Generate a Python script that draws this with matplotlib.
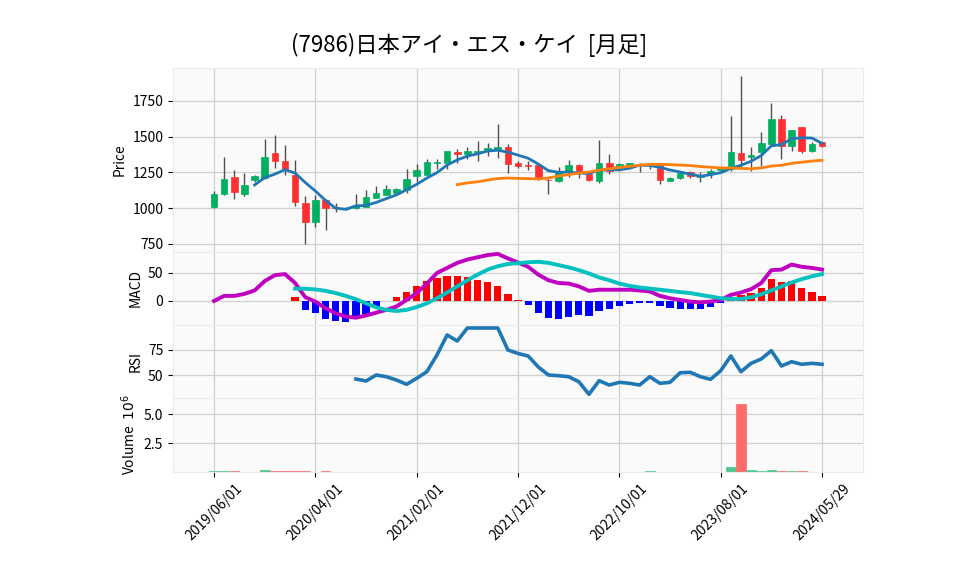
import numpy as np
import pandas as pd
import matplotlib
matplotlib.use('Agg')
from matplotlib import pyplot as plt

plt.rcParams['font.family'] = ['Noto Sans CJK JP', 'DejaVu Sans']

title = '(7986)日本アイ・エス・ケイ  [月足]'

# monthly candles, 2019/06 .. 2024/05 (+ last day 2024/05/29)
tick_pos = [0, 10, 20, 30, 40, 50, 60]
tick_labels = ['2019/06/01', '2020/04/01', '2021/02/01', '2021/12/01',
               '2022/10/01', '2023/08/01', '2024/05/29']

opens = [1005, 1096, 1214, 1096, 1195, 1209, 1383, 1331, 1228, 1035,
         899, 1059, 1007, 995, 998, 1010, 1070, 1094, 1108, 1126,
         1225, 1232, 1316, 1318, 1393, 1379, 1395, 1402, 1407, 1424,
         1313, 1298, 1301, 1197, 1192, 1250, 1301, 1238, 1192, 1315,
         1280, 1304, 1300, 1302, 1304, 1192, 1210, 1255, 1220, 1238,
         1266, 1273, 1385, 1360, 1390, 1448, 1623, 1436, 1565, 1401,
         1460]
highs = [1122, 1359, 1265, 1246, 1230, 1486, 1514, 1444, 1336, 1087,
         1092, 1065, 1035, 1008, 1098, 1128, 1151, 1159, 1142, 1271,
         1306, 1342, 1342, 1398, 1410, 1430, 1470, 1452, 1590, 1447,
         1330, 1330, 1301, 1205, 1285, 1334, 1308, 1245, 1478, 1378,
         1312, 1318, 1312, 1310, 1306, 1215, 1262, 1262, 1250, 1270,
         1290, 1646, 1921, 1425, 1534, 1735, 1651, 1546, 1565, 1464,
         1465]
lows = [1000, 1090, 1063, 1082, 1180, 1205, 1282, 1232, 1016, 749,
        866, 848, 970, 985, 995, 1005, 1068, 1090, 1100, 1103,
        1183, 1230, 1271, 1271, 1313, 1342, 1332, 1365, 1350, 1248,
        1283, 1267, 1194, 1099, 1180, 1215, 1208, 1190, 1175, 1238,
        1262, 1295, 1250, 1275, 1168, 1188, 1205, 1208, 1185, 1208,
        1262, 1262, 1273, 1262, 1292, 1445, 1343, 1401, 1385, 1390,
        1430]
closes = [1101, 1204, 1113, 1162, 1226, 1359, 1326, 1270, 1040, 899,
          1059, 998, 998, 1001, 1019, 1075, 1103, 1131, 1131, 1201,
          1264, 1321, 1321, 1398, 1379, 1398, 1402, 1419, 1424, 1311,
          1295, 1293, 1215, 1193, 1255, 1301, 1262, 1196, 1315, 1262,
          1305, 1313, 1304, 1305, 1199, 1210, 1243, 1227, 1231, 1257,
          1280, 1390, 1339, 1371, 1455, 1623, 1432, 1546, 1401, 1448,
          1436]
# volume in millions of shares
volumes = [0.05, 0.12, 0.05, 0.04, 0.04, 0.20, 0.12, 0.12, 0.06, 0.05,
           0.04, 0.12, 0.04, 0.03, 0.03, 0.03, 0.03, 0.03, 0.03, 0.03,
           0.03, 0.03, 0.03, 0.03, 0.03, 0.03, 0.03, 0.03, 0.03, 0.04,
           0.03, 0.03, 0.03, 0.03, 0.03, 0.03, 0.03, 0.03, 0.03, 0.03,
           0.03, 0.03, 0.03, 0.12, 0.04, 0.03, 0.03, 0.03, 0.03, 0.03,
           0.04, 0.40, 5.92, 0.20, 0.12, 0.20, 0.12, 0.05, 0.06, 0.04,
           0.03]

macd = [0, 9, 9, 12.6, 18.7, 35.5, 46, 48, 32, 6.6,
        -1.2, -13, -22, -28, -30, -26, -21, -16, -10, 1.8,
        14, 31, 50, 59, 68, 74, 78, 82, 84, 76,
        68.5, 61, 47, 37, 32, 31, 26, 18, 20, 20,
        20, 20, 18.7, 17, 9, 4.8, 1.8, -1.2, -2.4, -1.2,
        1.8, 10.8, 15, 21, 32, 55, 56, 65, 61, 59,
        56]
signal = [None] * 8 + [
    22, 21.7, 20.5, 18, 14, 9, 3, -4.2, -11.4, -16,
    -18, -16, -11, -4.2, 4.8, 15, 26, 37, 47, 56,
    62, 66, 67.5, 69, 70, 68, 64, 60, 55, 49,
    42, 37, 31, 27, 24, 22, 20, 18, 15.7, 14,
    10.8, 7.8, 4.8, 3.6, 3.6, 6.6, 12, 18.7, 26, 33,
    39, 44, 48]
hist = [None] * 8 + [
    6.6, -17, -22, -32, -35.5, -37, -33, -24, -12, 0.5,
    7.5, 16.5, 26, 36, 41, 45, 45, 43, 37, 34,
    27, 12.6, 1.8, -8, -21, -30, -32.5, -28, -25, -27,
    -17.5, -14, -9, -5.4, -4.2, -3, -8.4, -12, -14.5, -14.5,
    -14.5, -10, -3, 4.8, 10.8, 15, 23, 40, 34, 36,
    23, 15.7, 9]
rsi = [None] * 14 + [
    46, 44, 50, 48.3, 45, 40.7, 46.7, 53.3, 70, 90,
    84, 97, 97, 97, 97, 75, 71.5, 69, 58, 50,
    49.3, 48.3, 43.3, 30.7, 44.3, 40, 42.7, 41.7, 40, 48.3,
    41.7, 42.7, 52.3, 52.7, 48.3, 45.7, 54.3, 69, 53.3, 61.7,
    66, 74.3, 59, 63.3, 60.7, 61.7, 60.7]

x = np.arange(len(closes))
o = np.array(opens, float)
c = np.array(closes, float)
up = c >= o
ma5 = pd.Series(c).rolling(5).mean()
ma25 = pd.Series(c).rolling(25).mean()

UP, DOWN = '#00b060', '#fe3032'
VUP, VDOWN = '#4dc790', '#fd6b6c'
GRID = '#d0d0d0'

fig = plt.figure(figsize=(9.58, 5.75), dpi=100)
left, width = 0.1806, 0.7203
ax_p = fig.add_axes([left, 0.5617, width, 0.3200])
ax_m = fig.add_axes([left, 0.4348, width, 0.1270], sharex=ax_p)
ax_r = fig.add_axes([left, 0.3078, width, 0.1270], sharex=ax_p)
ax_v = fig.add_axes([left, 0.1791, width, 0.1287], sharex=ax_p)

for ax in (ax_p, ax_m, ax_r, ax_v):
    ax.set_facecolor('#fafafa')
    ax.grid(True, color=GRID, lw=0.9)
    ax.set_axisbelow(True)
    for s in ax.spines.values():
        s.set_color('#ececec')
    ax.tick_params(labelsize=10, length=3.5, width=0.8)
    if ax is not ax_v:
        ax.tick_params(labelbottom=False, bottom=False)

# candles
colors = [UP if u else DOWN for u in up]
ax_p.vlines(x, lows, highs, color='#505050', lw=1, zorder=2)
body = np.maximum(np.abs(c - o), 4)
ax_p.bar(x, body, bottom=np.minimum(o, c), width=0.65, color=colors,
         edgecolor=colors, lw=0.5, zorder=3)
ax_p.plot(x, ma5, color='#1f77b4', lw=2, zorder=4)
ax_p.plot(x, ma25, color='#ff7f0e', lw=2, zorder=4)
ax_p.set_ylim(692, 1980)
ax_p.set_yticks([750, 1000, 1250, 1500, 1750])
ax_p.set_ylabel('Price', fontsize=10)

# MACD
h = np.array([np.nan if v is None else v for v in hist])
ax_m.bar(x, h, width=0.72, color=['r' if v > 0 else 'b' for v in np.nan_to_num(h)],
         zorder=2)
ax_m.plot(x, macd, color='#c000c0', lw=2.8, zorder=3)
ax_m.plot(x, [np.nan if v is None else v for v in signal], color='#00c0c0', lw=2.8, zorder=3)
ax_m.set_ylim(-43, 87.5)
ax_m.set_yticks([0, 50])
ax_m.set_ylabel('MACD', fontsize=10)

# RSI
ax_r.plot(x, [np.nan if v is None else v for v in rsi], color='#1f77b4', lw=2.6)
ax_r.set_ylim(27, 100)
ax_r.set_yticks([50, 75])
ax_r.set_ylabel('RSI', fontsize=10)

# volume
vcol = [VUP if u else VDOWN for u in up]
ax_v.bar(x, np.array(volumes) * 1e6, width=0.95, color=vcol, edgecolor=vcol, lw=0.5)
ax_v.set_ylim(0, 6.4e6)
ax_v.set_yticks([2.5e6, 5.0e6])
ax_v.set_yticklabels(['2.5', '5.0'])
ax_v.set_ylabel('Volume  $10^{6}$', fontsize=10)

ax_v.set_xlim(-4.05, 64.05)
ax_v.set_xticks(tick_pos)
ax_v.set_xticklabels(tick_labels, rotation=45, fontsize=10)

fig.text(0.4896, 0.9217, title, ha='center', va='center', fontsize=16)

fig.savefig('out.png', dpi=100)
